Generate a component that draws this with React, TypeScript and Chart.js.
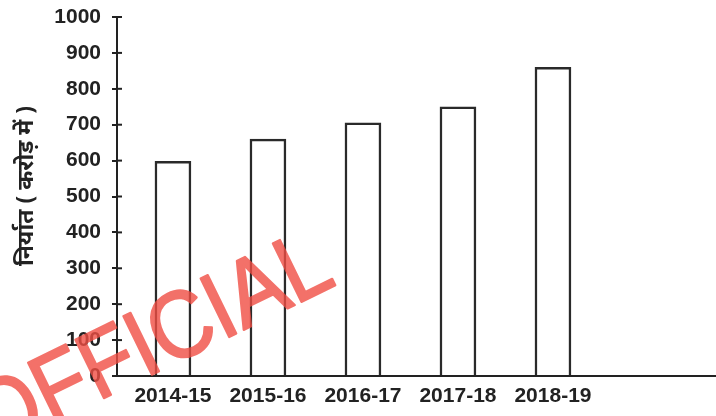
import React, { useEffect, useRef } from "react";
import { Chart, registerables } from "chart.js";

Chart.register(...registerables);

const categories: string[] = ["2014-15", "2015-16", "2016-17", "2017-18", "2018-19"];
const exportsValues: number[] = [598, 660, 705, 750, 860];
const yTicks: number[] = [0, 100, 200, 300, 400, 500, 600, 700, 800, 900, 1000];
const yTitle = "निर्यात ( करोड़ में )";
const watermark = "OFFICIAL";

const FONT = "'Liberation Sans', Arial, sans-serif";
const INK = "#222";

const innerTicks = {
  id: "innerTicks",
  afterDraw(chart: any) {
    const y = chart.scales.y;
    const ctx = chart.ctx;
    ctx.save();
    ctx.strokeStyle = INK;
    ctx.lineWidth = 2;
    for (const t of y.ticks) {
      const py = y.getPixelForValue(t.value);
      ctx.beginPath();
      ctx.moveTo(chart.chartArea.left, py);
      ctx.lineTo(chart.chartArea.left + 5, py);
      ctx.stroke();
    }
    ctx.restore();
  },
};

const yTitlePlugin = {
  id: "yTitle",
  afterDraw(chart: any) {
    const ctx = chart.ctx;
    ctx.save();
    ctx.translate(26, 186);
    ctx.rotate(-Math.PI / 2);
    ctx.font = `bold 23px 'Noto Sans', sans-serif`;
    ctx.fillStyle = INK;
    ctx.textAlign = "center";
    ctx.textBaseline = "middle";
    ctx.fillText(yTitle, 0, 0);
    ctx.restore();
  },
};

const watermarkPlugin = {
  id: "watermark",
  afterDraw(chart: any) {
    const ctx = chart.ctx;
    const off = document.createElement("canvas");
    off.width = chart.width;
    off.height = chart.height;
    const o = off.getContext("2d");
    if (!o) return;
    o.translate(338, 284);
    o.rotate((-26 * Math.PI) / 180);
    o.scale(1, 1.1);
    o.font = `86px ${FONT}`;
    o.fillStyle = "rgb(240, 78, 68)";
    o.strokeStyle = "rgb(240, 78, 68)";
    o.lineWidth = 2;
    o.lineJoin = "round";
    o.textAlign = "right";
    o.textBaseline = "alphabetic";
    o.fillText(watermark, 0, 0);
    o.strokeText(watermark, 0, 0);
    ctx.save();
    ctx.globalAlpha = 0.8;
    ctx.drawImage(off, 0, 0);
    ctx.restore();
  },
};

export default function App() {
  const ref = useRef<HTMLCanvasElement | null>(null);
  useEffect(() => {
    document.body.style.margin = "0";
    const canvas = ref.current;
    if (!canvas) return;
    const chart = new Chart(canvas, {
      type: "bar",
      data: {
        datasets: [
          {
            data: exportsValues.map((v, i) => ({ x: i, y: v })),
            backgroundColor: "#ffffff",
            borderColor: "#2a2a2a",
            borderWidth: 2.5,
            barThickness: 36,
          } as any,
        ],
      },
      options: {
        animation: false,
        responsive: false,
        maintainAspectRatio: false,
        layout: { padding: { top: 17, right: 0, left: 0, bottom: 0 } },
        plugins: { legend: { display: false }, tooltip: { enabled: false } },
        scales: {
          x: {
            type: "linear",
            offset: false,
            min: -0.589,
            max: 5.716,
            afterBuildTicks: (scale: any) => {
              scale.ticks = categories.map((_, i) => ({ value: i }));
            },
            afterFit: (scale: any) => {
              scale.height = 40;
              scale.paddingLeft = 0;
              scale.paddingRight = 0;
            },
            ticks: {
              callback: (v: any) => categories[v] ?? "",
              color: INK,
              font: { family: FONT, size: 21, weight: "bold" },
              padding: 8,
              maxRotation: 0,
              autoSkip: false,
            },
            grid: { display: false, drawTicks: false },
            border: { display: true, color: INK, width: 2 },
          },
          y: {
            min: 0,
            max: 1000,
            afterBuildTicks: (scale: any) => {
              scale.ticks = yTicks.map((v) => ({ value: v }));
            },
            afterFit: (scale: any) => {
              scale.width = 117;
              scale.paddingTop = 0;
              scale.paddingBottom = 0;
            },
            ticks: {
              callback: (v: any) => String(v),
              color: INK,
              font: { family: FONT, size: 21, weight: "bold" },
              padding: 11,
            },
            grid: {
              drawOnChartArea: false,
              drawTicks: true,
              tickLength: 5,
              color: INK,
              lineWidth: 2,
            },
            border: { display: true, color: INK, width: 2 },
          },
        },
      },
      plugins: [innerTicks, yTitlePlugin, watermarkPlugin],
    } as any);
    return () => chart.destroy();
  }, []);
  return (
    <div style={{ width: 716, height: 416, background: "#fff" }}>
      <canvas ref={ref} width={716} height={416} style={{ display: "block" }} />
    </div>
  );
}
